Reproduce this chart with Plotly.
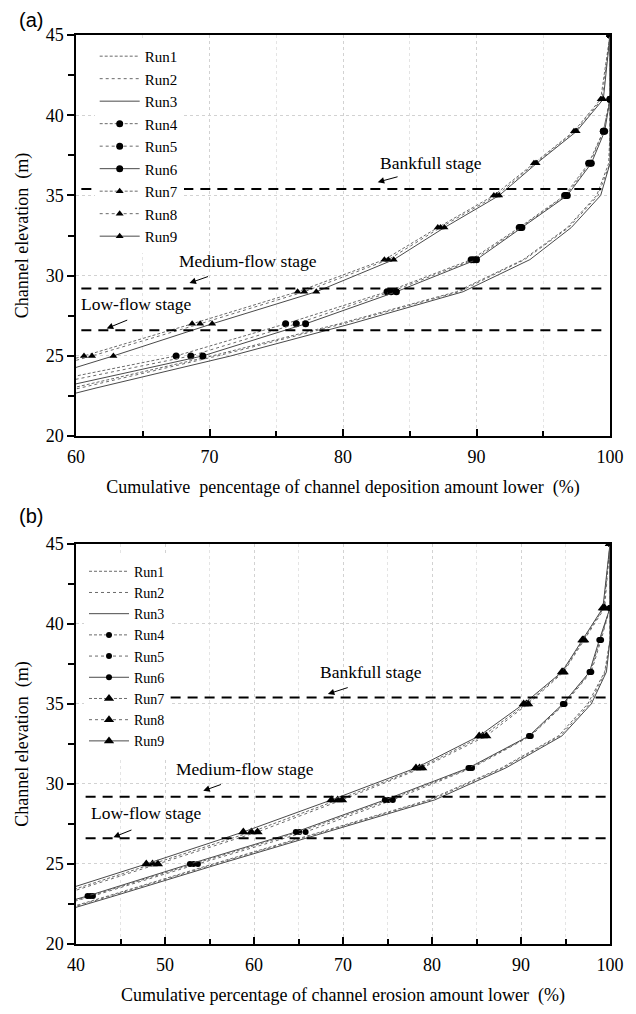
import plotly.graph_objects as go

SERIF = "Liberation Serif, Times New Roman, serif"
SANS = "Liberation Sans, Arial, sans-serif"

# Elevation levels (m) at which the cumulative percentages are sampled
elevation = [21, 23, 25, 27, 29, 31, 33, 35, 37, 39, 41, 45]

# (a) cumulative percentage of channel deposition amount lower (%)
dep_run1 = [49.5, 59.7, 70.2, 79.7, 88.5, 93.5, 96.8, 99.0, 99.9, 100, 100, 100]
dep_run2 = [50.0, 60.2, 70.6, 80.0, 88.7, 93.6, 96.9, 99.1, 100, 100, 100, 100]
dep_run3 = [52.0, 61.5, 71.6, 80.6, 89.0, 94.0, 97.1, 99.3, 100, 100, 100, 100]
dep_run4 = [44.0, 55.5, 67.5, 75.7, 83.3, 89.6, 93.2, 96.6, 98.4, 99.5, 100, 100]
dep_run5 = [45.0, 56.7, 68.6, 76.5, 83.6, 89.8, 93.3, 96.7, 98.5, 99.5, 100, 100]
dep_run6 = [48.0, 58.6, 69.5, 77.2, 84.0, 90.0, 93.4, 96.8, 98.6, 99.6, 100, 100]
dep_run7 = [43.0, 52.0, 60.6, 68.7, 76.6, 83.1, 87.1, 91.3, 94.3, 97.3, 99.3, 100]
dep_run8 = [44.0, 52.5, 61.2, 69.3, 77.1, 83.4, 87.3, 91.5, 94.4, 97.4, 99.4, 100]
dep_run9 = [47.0, 55.0, 62.8, 70.2, 78.0, 83.8, 87.6, 91.7, 94.5, 97.5, 99.5, 100]

# (b) cumulative percentage of channel erosion amount lower (%)
ero_run1 = [31.5, 43.6, 55.4, 67.6, 79.6, 87.8, 94.2, 97.5, 99.4, 100, 100, 100]
ero_run2 = [31.8, 43.9, 55.7, 67.9, 79.9, 88.0, 94.4, 97.7, 99.5, 100, 100, 100]
ero_run3 = [32.2, 44.3, 56.1, 68.3, 80.3, 88.3, 94.6, 97.9, 99.6, 100, 100, 100]
ero_run4 = [29.0, 41.6, 53.2, 65.1, 75.1, 84.3, 91.0, 94.8, 97.8, 98.9, 100, 100]
ero_run5 = [29.5, 41.9, 53.7, 65.8, 75.6, 84.5, 91.1, 94.9, 97.9, 99.0, 100, 100]
ero_run6 = [28.5, 41.3, 52.8, 64.7, 74.7, 84.1, 90.9, 94.7, 97.7, 98.8, 100, 100]
ero_run7 = [27.0, 37.5, 48.6, 59.7, 69.4, 78.6, 85.7, 90.6, 94.7, 97.0, 99.3, 100]
ero_run8 = [28.0, 38.0, 49.2, 60.4, 69.9, 78.9, 86.1, 90.8, 94.8, 97.1, 99.4, 100]
ero_run9 = [26.0, 36.6, 47.9, 58.8, 68.7, 78.2, 85.3, 90.3, 94.6, 96.9, 99.2, 100]

run_names = ["Run1", "Run2", "Run3", "Run4", "Run5", "Run6", "Run7", "Run8", "Run9"]
dep_runs = [dep_run1, dep_run2, dep_run3, dep_run4, dep_run5, dep_run6, dep_run7, dep_run8, dep_run9]
ero_runs = [ero_run1, ero_run2, ero_run3, ero_run4, ero_run5, ero_run6, ero_run7, ero_run8, ero_run9]

# Stage levels (m) and their labels
stage_levels = [35.4, 29.2, 26.6]
stage_labels = ["Bankfull stage", "Medium-flow stage", "Low-flow stage"]

# line dash per run inside each group: two broken lines and one solid
dash_cycle = ["3px,2px", "dot", "solid"]
color_cycle = ["#6a6a6a", "#6a6a6a", "#4a4a4a"]
symbols = [None, None, None, "circle", "circle", "circle",
           "triangle-up", "triangle-up", "triangle-up"]

fig = go.Figure()


def add_panel(runs, xa, ya, legend, circ_size, tri_size):
    for i, (name, xs) in enumerate(zip(run_names, runs)):
        sym = symbols[i]
        kw = dict(mode="lines")
        if sym is not None:
            kw = dict(mode="lines+markers",
                      marker=dict(symbol=sym, color="black",
                                  size=circ_size if sym == "circle" else tri_size,
                                  line=dict(width=0)))
        fig.add_trace(go.Scatter(
            x=xs, y=elevation, name=name, xaxis=xa, yaxis=ya, legend=legend,
            line=dict(color=color_cycle[i % 3], width=1, dash=dash_cycle[i % 3]),
            **kw))


add_panel(dep_runs, "x", "y", "legend", 7, 7)
add_panel(ero_runs, "x2", "y2", "legend2", 6, 9)

# dashed stage lines
shapes = []
for lvl in stage_levels:
    shapes.append(dict(type="line", xref="x domain", yref="y", x0=0.01, x1=0.985,
                       y0=lvl, y1=lvl, layer="above",
                       line=dict(color="black", width=2, dash="10px,7px")))
    shapes.append(dict(type="line", xref="x2 domain", yref="y2", x0=0.018, x1=0.995,
                       y0=lvl, y1=lvl, layer="above",
                       line=dict(color="black", width=2, dash="10px,7px")))

# stage labels with short arrows: (text x, text y, head x, head y, tail x, tail y)
label_pos_a = [(86.6, 37.0, 82.6, 35.83, 84.2, 36.19),
               (72.9, 30.9, 68.5, 29.54, 70.0, 29.98),
               (64.5, 28.25, 62.3, 26.71, 63.95, 27.27)]
label_pos_b = [(73.1, 36.98, 68.3, 35.62, 70.7, 36.05),
               (59.0, 30.93, 54.3, 29.57, 56.45, 30.0),
               (47.9, 28.21, 44.2, 26.67, 46.4, 27.16)]

annotations = []
for (xr, yr), positions in ((("x", "y"), label_pos_a), (("x2", "y2"), label_pos_b)):
    for text, (tx, ty, hx, hy, sx, sy) in zip(stage_labels, positions):
        annotations.append(dict(x=tx, y=ty, xref=xr, yref=yr, text=text, showarrow=False,
                                font=dict(family=SERIF, size=17.5, color="black")))
        annotations.append(dict(x=hx, y=hy, xref=xr, yref=yr, ax=sx, ay=sy,
                                axref=xr, ayref=yr, text="", showarrow=True,
                                arrowhead=2, arrowsize=1.3, arrowwidth=1, arrowcolor="black"))

W, H = 636, 1014
ML, MR, MT, MB = 76, 13, 35, 59
PW, PH = W - ML - MR, H - MT - MB

# panel letters, placed by pixel position and converted to paper coordinates
for letter, (px, py) in (("(a)", (30, 20)), ("(b)", (30, 522))):
    annotations.append(dict(x=(px - ML) / PW, y=(H - MB - py) / PH, xref="paper", yref="paper",
                            xanchor="center", yanchor="middle", text=letter, showarrow=False,
                            font=dict(family=SANS, size=20, color="black")))

axis_common = dict(showline=True, linecolor="black", linewidth=1.5, mirror=True,
                   showgrid=True, gridcolor="#d2d2d2", griddash="dot", gridwidth=1,
                   zeroline=False, tickcolor="black", tickwidth=1.5,
                   tickfont=dict(family=SERIF, size=18, color="black"),
                   title_font=dict(family=SERIF, size=18, color="black"))

xa_common = dict(axis_common, ticks="inside", ticklen=7, dtick=10, ticklabelstandoff=4,
                 minor=dict(ticks="inside", ticklen=5, dtick=5, tickcolor="black",
                            showgrid=True, gridcolor="#e4e4e4", griddash="dot"))
ya_common = dict(axis_common, ticks="outside", ticklen=7, dtick=5, range=[20, 45],
                 minor=dict(ticks="outside", ticklen=6, dtick=2.5, tickcolor="black"),
                 title_text="Channel elevation\u00a0 (m)", title_standoff=12)

legend_common = dict(bgcolor="white", borderwidth=0, xanchor="left", yanchor="top",
                     itemwidth=40, tracegroupgap=0)

fig.update_layout(
    width=W, height=H,
    margin=dict(l=ML, r=MR, t=MT, b=MB),
    paper_bgcolor="white", plot_bgcolor="white",
    xaxis=dict(xa_common, domain=[0, 1], anchor="y", range=[60, 100],
               title_text="Cumulative\u00a0 pencentage of channel deposition amount lower\u00a0 (%)",
               title_standoff=14),
    yaxis=dict(ya_common, domain=[0.5587, 1], anchor="x"),
    xaxis2=dict(xa_common, domain=[0, 1], anchor="y2", range=[40, 100],
                title_text="Cumulative percentage of channel erosion amount lower\u00a0 (%)",
                title_standoff=14),
    yaxis2=dict(ya_common, domain=[0, 0.4402], anchor="x2"),
    legend=dict(legend_common, x=0.035, y=0.9946,
                font=dict(family=SERIF, size=15, color="black")),
    legend2=dict(legend_common, x=0.015, y=0.4272,
                 font=dict(family=SERIF, size=14, color="black")),
    shapes=shapes,
    annotations=annotations,
)

fig.write_html("out.html")
